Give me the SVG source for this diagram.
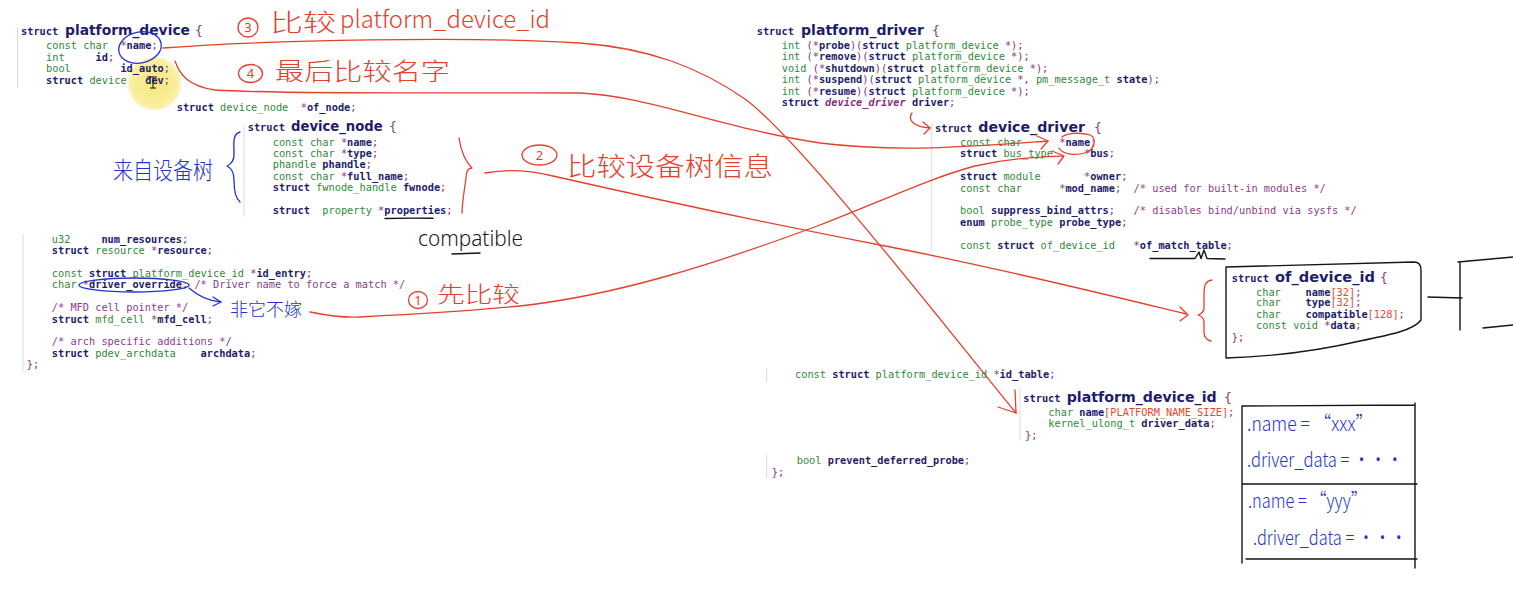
<svg xmlns="http://www.w3.org/2000/svg" width="1513" height="612" viewBox="0 0 1513 612" xml:space="preserve">
<style>
text{white-space:pre}
.code{font-family:"DejaVu Sans Mono","Liberation Mono",monospace;font-size:10.3px;fill:#2f8a3a}
.k{fill:#1d1d6b;font-weight:bold}
.n{fill:#1d1d6b;font-weight:bold}
.p{fill:#7e3282}
.cm{fill:#8a3c8a}
.r{fill:#e24a2e}
.it{fill:#8a2f86;font-style:italic;font-weight:bold}
.title{font-family:"DejaVu Sans","Liberation Sans",sans-serif;font-weight:bold;font-size:14px;fill:#1d1d6b}
.brace{font-family:"DejaVu Sans Mono",monospace;font-size:13px;fill:#8a3c8a}
.border{stroke:#dcdcdc;stroke-width:1;fill:none}
.red{stroke:#e5402d;stroke-width:1.3;fill:none;stroke-linecap:round;stroke-linejoin:round}
.blue{stroke:#2233d0;stroke-width:1.3;fill:none;stroke-linecap:round;stroke-linejoin:round}
.blk{stroke:#151515;stroke-width:1.4;fill:none;stroke-linecap:round;stroke-linejoin:round}
.hr{font-family:"Noto Sans CJK SC","Noto Sans",sans-serif;font-weight:300;fill:#e5402d}
.hb{font-family:"Noto Sans CJK SC","Noto Sans",sans-serif;font-weight:300;fill:#2233d0}
.hk{font-family:"Noto Sans","Noto Sans CJK SC",sans-serif;font-weight:300;fill:#1a1a1a}
.num{font-family:"Noto Sans",sans-serif;font-size:13px;fill:#e5402d;text-anchor:middle}
</style>
<defs>
<radialGradient id="hl" cx="0.5" cy="0.5" r="0.5">
<stop offset="0" stop-color="#f6e77e"/>
<stop offset="0.85" stop-color="#f9ee9e"/>
<stop offset="1" stop-color="#fcf6d0"/>
</radialGradient>
</defs>
<rect width="1513" height="612" fill="#ffffff"/>

<circle cx="154.5" cy="83.5" r="27" fill="url(#hl)"/>

<g id="platform_device">
<line class="border" x1="17.5" y1="28" x2="17.5" y2="88"/>
<text class="code" x="21" y="35"><tspan class="k">struct</tspan></text>
<text class="title" x="65" y="35" textLength="125" lengthAdjust="spacingAndGlyphs">platform_device</text>
<text class="brace" x="195" y="35">{</text>
<text class="code" x="46" y="49">const char  <tspan class="p">*</tspan><tspan class="n">name</tspan><tspan class="p">;</tspan></text>
<text class="code" x="46" y="60.5">int     <tspan class="n">id</tspan><tspan class="p">;</tspan></text>
<text class="code" x="46" y="72">bool        <tspan class="n">id_auto</tspan><tspan class="p">;</tspan></text>
<text class="code" x="46" y="83.5"><tspan class="k">struct</tspan> device   <tspan class="n">dev</tspan><tspan class="p">;</tspan></text>
<path d="M147,77 H157 M153,77 V88 M150,88 H156" stroke="#111" stroke-width="1" fill="none"/>
<text class="code" x="176.7" y="110.8"><tspan class="k">struct</tspan> device_node  <tspan class="p">*</tspan><tspan class="n">of_node</tspan><tspan class="p">;</tspan></text>
</g>

<g id="device_node">
<line class="border" x1="244" y1="125" x2="244" y2="217"/>
<text class="code" x="247.7" y="131"><tspan class="k">struct</tspan></text>
<text class="title" x="291" y="131" textLength="91.7" lengthAdjust="spacingAndGlyphs">device_node</text>
<text class="brace" x="389" y="131">{</text>
<text class="code" x="272.7" y="145.8">const char <tspan class="p">*</tspan><tspan class="n">name</tspan><tspan class="p">;</tspan></text>
<text class="code" x="272.7" y="156.8">const char <tspan class="p">*</tspan><tspan class="n">type</tspan><tspan class="p">;</tspan></text>
<text class="code" x="272.7" y="168.2">phandle <tspan class="n">phandle</tspan><tspan class="p">;</tspan></text>
<text class="code" x="272.7" y="179.5">const char <tspan class="p">*</tspan><tspan class="n">full_name</tspan><tspan class="p">;</tspan></text>
<text class="code" x="272.7" y="191.2"><tspan class="k">struct</tspan> fwnode_handle <tspan class="n">fwnode</tspan><tspan class="p">;</tspan></text>
<text class="code" x="272.7" y="213.5"><tspan class="k">struct</tspan>  property <tspan class="p">*</tspan><tspan class="n">properties</tspan><tspan class="p">;</tspan></text>
<path class="blk" d="M385,218.5 C400,218 418,218 433,218.3" stroke-width="1.2"/>
</g>

<g id="platform_device_tail">
<line class="border" x1="23" y1="234" x2="23" y2="371"/>
<text class="code" x="51.8" y="242.5">u32     <tspan class="n">num_resources</tspan><tspan class="p">;</tspan></text>
<text class="code" x="51.8" y="254"><tspan class="k">struct</tspan> resource <tspan class="p">*</tspan><tspan class="n">resource</tspan><tspan class="p">;</tspan></text>
<text class="code" x="51.8" y="277">const <tspan class="k">struct</tspan> platform_device_id <tspan class="p">*</tspan><tspan class="n">id_entry</tspan><tspan class="p">;</tspan></text>
<text class="code" x="51.8" y="288">char <tspan class="p">*</tspan><tspan class="n">driver_override</tspan><tspan class="p">;</tspan><tspan class="cm"> /* Driver name to force a match */</tspan></text>
<text class="code" x="51.8" y="311"><tspan class="cm">/* MFD cell pointer */</tspan></text>
<text class="code" x="51.8" y="322.5"><tspan class="k">struct</tspan> mfd_cell <tspan class="p">*</tspan><tspan class="n">mfd_cell</tspan><tspan class="p">;</tspan></text>
<text class="code" x="51.8" y="345"><tspan class="cm">/* arch specific additions */</tspan></text>
<text class="code" x="51.8" y="356.5"><tspan class="k">struct</tspan> pdev_archdata    <tspan class="n">archdata</tspan><tspan class="p">;</tspan></text>
<text class="code" x="26.8" y="368"><tspan class="p">};</tspan></text>
</g>

<g id="platform_driver">
<text class="code" x="756.7" y="35"><tspan class="k">struct</tspan></text>
<text class="title" x="801" y="35" textLength="123" lengthAdjust="spacingAndGlyphs">platform_driver</text>
<text class="brace" x="932" y="35">{</text>
<text class="code" x="781.7" y="48.5">int <tspan class="p">(*</tspan><tspan class="n">probe</tspan><tspan class="p">)(</tspan><tspan class="k">struct</tspan> platform_device <tspan class="p">*);</tspan></text>
<text class="code" x="781.7" y="60.2">int <tspan class="p">(*</tspan><tspan class="n">remove</tspan><tspan class="p">)(</tspan><tspan class="k">struct</tspan> platform_device <tspan class="p">*);</tspan></text>
<text class="code" x="781.7" y="71.8">void <tspan class="p">(*</tspan><tspan class="n">shutdown</tspan><tspan class="p">)(</tspan><tspan class="k">struct</tspan> platform_device <tspan class="p">*);</tspan></text>
<text class="code" x="781.7" y="83.2">int <tspan class="p">(*</tspan><tspan class="n">suspend</tspan><tspan class="p">)(</tspan><tspan class="k">struct</tspan> platform_device <tspan class="p">*, </tspan>pm_message_t <tspan class="n">state</tspan><tspan class="p">);</tspan></text>
<text class="code" x="781.7" y="94.5">int <tspan class="p">(*</tspan><tspan class="n">resume</tspan><tspan class="p">)(</tspan><tspan class="k">struct</tspan> platform_device <tspan class="p">*);</tspan></text>
<text class="code" x="781.7" y="105.8"><tspan class="k">struct</tspan> <tspan class="it">device_driver</tspan> <tspan class="n">driver</tspan><tspan class="p">;</tspan></text>
<line class="border" x1="766.7" y1="368" x2="766.7" y2="382"/>
<text class="code" x="795" y="377.5">const <tspan class="k">struct</tspan> platform_device_id <tspan class="p">*</tspan><tspan class="n">id_table</tspan><tspan class="p">;</tspan></text>
<line class="border" x1="766.7" y1="455" x2="766.7" y2="478"/>
<text class="code" x="796.7" y="464.2">bool <tspan class="n">prevent_deferred_probe</tspan><tspan class="p">;</tspan></text>
<text class="code" x="771.7" y="476.2"><tspan class="p">};</tspan></text>
</g>

<g id="device_driver">
<line class="border" x1="931.7" y1="123" x2="931.7" y2="251"/>
<text class="code" x="935" y="131.5"><tspan class="k">struct</tspan></text>
<text class="title" x="978.3" y="131.5" textLength="106.7" lengthAdjust="spacingAndGlyphs">device_driver</text>
<text class="brace" x="1094" y="131.5">{</text>
<text class="code" x="960" y="145.8">const char      <tspan class="p">*</tspan><tspan class="n">name</tspan><tspan class="p">;</tspan></text>
<text class="code" x="960" y="157.2"><tspan class="k">struct</tspan> bus_type     <tspan class="p">*</tspan><tspan class="n">bus</tspan><tspan class="p">;</tspan></text>
<text class="code" x="960" y="180.2"><tspan class="k">struct</tspan> module       <tspan class="p">*</tspan><tspan class="n">owner</tspan><tspan class="p">;</tspan></text>
<text class="code" x="960" y="191.5">const char      <tspan class="p">*</tspan><tspan class="n">mod_name</tspan><tspan class="p">;</tspan><tspan class="cm">  /* used for built-in modules */</tspan></text>
<text class="code" x="960" y="214.2">bool <tspan class="n">suppress_bind_attrs</tspan><tspan class="p">;</tspan><tspan class="cm">   /* disables bind/unbind via sysfs */</tspan></text>
<text class="code" x="960" y="225.8"><tspan class="k">enum</tspan> probe_type <tspan class="n">probe_type</tspan><tspan class="p">;</tspan></text>
<text class="code" x="960" y="248.5">const <tspan class="k">struct</tspan> of_device_id   <tspan class="p">*</tspan><tspan class="n">of_match_table</tspan><tspan class="p">;</tspan></text>
<path class="blk" d="M1150,258.5 L1195,258.5 L1199,252 L1201,258.5 L1204,250 L1207,258.5 L1225,259" stroke-width="1.2"/>
<path class="red" d="M1062,137 C1066,133 1080,132 1090,135 C1097,138 1095,150 1085,153 C1075,156 1062,154 1059,148"/>
</g>

<g id="of_device_id">
<path class="blk" d="M1226,267 L1414,262 Q1421,262 1421,270 L1421,320 C1414,330 1390,335 1360,341 C1330,348 1290,356 1226,358 Z"/>
<text class="code" x="1231.7" y="281.5"><tspan class="k">struct</tspan></text>
<text class="title" x="1275" y="281.5" textLength="100" lengthAdjust="spacingAndGlyphs">of_device_id</text>
<text class="brace" x="1380" y="281.5">{</text>
<text class="code" x="1256" y="295.8">char    <tspan class="n">name</tspan><tspan class="r">[32]</tspan><tspan class="p">;</tspan></text>
<text class="code" x="1256" y="306.2">char    <tspan class="n">type</tspan><tspan class="r">[32]</tspan><tspan class="p">;</tspan></text>
<text class="code" x="1256" y="317.8">char    <tspan class="n">compatible</tspan><tspan class="r">[128]</tspan><tspan class="p">;</tspan></text>
<text class="code" x="1256" y="329.2">const void <tspan class="p">*</tspan><tspan class="n">data</tspan><tspan class="p">;</tspan></text>
<text class="code" x="1231.7" y="340.8"><tspan class="p">};</tspan></text>
<path class="blk" d="M1428,297 L1462,298 M1460,262 L1460,330 M1458,262 L1513,257 M1483,328 L1513,325"/>
</g>

<g id="platform_device_id">
<line class="border" x1="1020" y1="388" x2="1020" y2="441"/>
<text class="code" x="1023.3" y="401.5"><tspan class="k">struct</tspan></text>
<text class="title" x="1066.7" y="401.5" textLength="150" lengthAdjust="spacingAndGlyphs">platform_device_id</text>
<text class="brace" x="1224" y="401.5">{</text>
<text class="code" x="1048.3" y="415.8">char <tspan class="n">name</tspan><tspan class="r">[PLATFORM_NAME_SIZE]</tspan><tspan class="p">;</tspan></text>
<text class="code" x="1048.3" y="426.8">kernel_ulong_t <tspan class="n">driver_data</tspan><tspan class="p">;</tspan></text>
<text class="code" x="1025" y="438.5"><tspan class="p">};</tspan></text>
</g>

<g id="id_table_entries">
<path class="blk" d="M1242,406 L1415,405 M1242,406 L1242,563 M1415,403 L1415,568 M1242,484 L1417,484 M1246,559 L1417,559"/>
<text class="hb" x="1247" y="431" font-size="20" textLength="126" lengthAdjust="spacingAndGlyphs">.name = “xxx”</text>
<text class="hb" x="1247" y="467" font-size="20" textLength="156" lengthAdjust="spacingAndGlyphs">.driver_data = ···</text>
<text class="hb" x="1248" y="508" font-size="20" textLength="119" lengthAdjust="spacingAndGlyphs">.name = “yyy”</text>
<text class="hb" x="1253" y="545" font-size="20" textLength="154" lengthAdjust="spacingAndGlyphs">.driver_data = ···</text>
</g>

<g id="note_dt">
<text class="hb" x="113" y="179" font-size="24" textLength="100" lengthAdjust="spacingAndGlyphs">来自设备树</text>
<path class="blue" d="M240,132 C232,134 234,145 234,155 C234,160 231,164 227,166 C231,168 234,172 234,180 C234,190 235,198 240,202"/>
</g>

<g id="note_name_circle">
<ellipse class="blue" cx="140" cy="47.5" rx="21.5" ry="15.5" transform="rotate(-12 140 47.5)"/>
</g>

<g id="note_override">
<ellipse class="blue" cx="134" cy="285" rx="55" ry="7"/>
<text class="hb" x="230" y="316" font-size="18" textLength="72" lengthAdjust="spacingAndGlyphs">非它不嫁</text>
</g>

<g id="note_compatible">
<text class="hk" x="418" y="246" font-size="22" textLength="105" lengthAdjust="spacingAndGlyphs">compatible</text>
<path class="blk" d="M452,254 L480,253" stroke-width="1.2"/>
</g>

<g id="note3">
<ellipse class="red" cx="248" cy="27.5" rx="10" ry="9.5"/>
<text class="num" x="248" y="32">3</text>
<text class="hr" x="270" y="31" font-size="24" textLength="66" lengthAdjust="spacingAndGlyphs">比较</text>
<text class="hr" x="340" y="28" font-size="24" textLength="210" lengthAdjust="spacingAndGlyphs">platform_device_id</text>
</g>

<g id="note4">
<ellipse class="red" cx="250.5" cy="73.5" rx="12" ry="9"/>
<text class="num" x="250.5" y="78">4</text>
<text class="hr" x="275" y="80" font-size="24" textLength="175" lengthAdjust="spacingAndGlyphs">最后比较名字</text>
</g>

<g id="note2">
<ellipse class="red" cx="539.5" cy="155" rx="17.5" ry="10"/>
<text class="num" x="539.5" y="160">2</text>
<text class="hr" x="567" y="176" font-size="26" textLength="206" lengthAdjust="spacingAndGlyphs">比较设备树信息</text>
<path class="red" d="M459,138 C461,152 466,162 472,168 C468,168 466,172 466,178 C464,192 462,204 462,213"/>
</g>

<g id="note1">
<ellipse class="red" cx="418" cy="300" rx="9.5" ry="8.5"/>
<text class="num" x="418" y="304.5">1</text>
<text class="hr" x="437" y="302" font-size="22" textLength="83" lengthAdjust="spacingAndGlyphs">先比较</text>
</g>

<g id="connectors">
<path class="red" d="M163,48 C270,40 470,36 580,43 C650,48 700,68 745,99 C800,140 940,320 1016,413"/>
<path class="red" d="M998,407 L1016,413 L1015,390"/>
<path class="red" d="M175,61 C180,75 188,86 215,90 C300,95 500,92 580,93 C650,96 720,128 820,143 C900,153 980,146 1048,141"/>
<path class="red" d="M1037,136 L1048,141 L1041,149"/>
<path class="red" d="M485,173 C500,170 520,168 553,176 C650,198 760,222 880,245 C1000,268 1120,298 1186,314"/>
<path class="red" d="M1180,307 L1188,315 L1180,321"/>
<path class="red" d="M1212,280 C1204,281 1204,288 1204,296 L1204,308 C1204,312 1201,314 1198,315 C1201,316 1204,318 1204,322 L1204,332 C1204,337 1206,340 1211,341"/>
<path class="red" d="M310,312 C330,316 345,318 360,317 C420,314 470,311 520,306 C620,295 720,262 820,225 C880,202 930,178 975,166 C1010,158 1040,157 1063,156"/>
<path class="red" d="M1052,151 L1064,156 L1058,164"/>
<path class="red" d="M912,113 C907,120 914,127 930,128"/>
<path class="red" d="M923,122 L930,128 L924,134"/>
<path class="blue" d="M189,288 C198,296 208,301 221,302"/>
<path class="blue" d="M213,297 L221,302 L213,306"/>
</g>
</svg>
